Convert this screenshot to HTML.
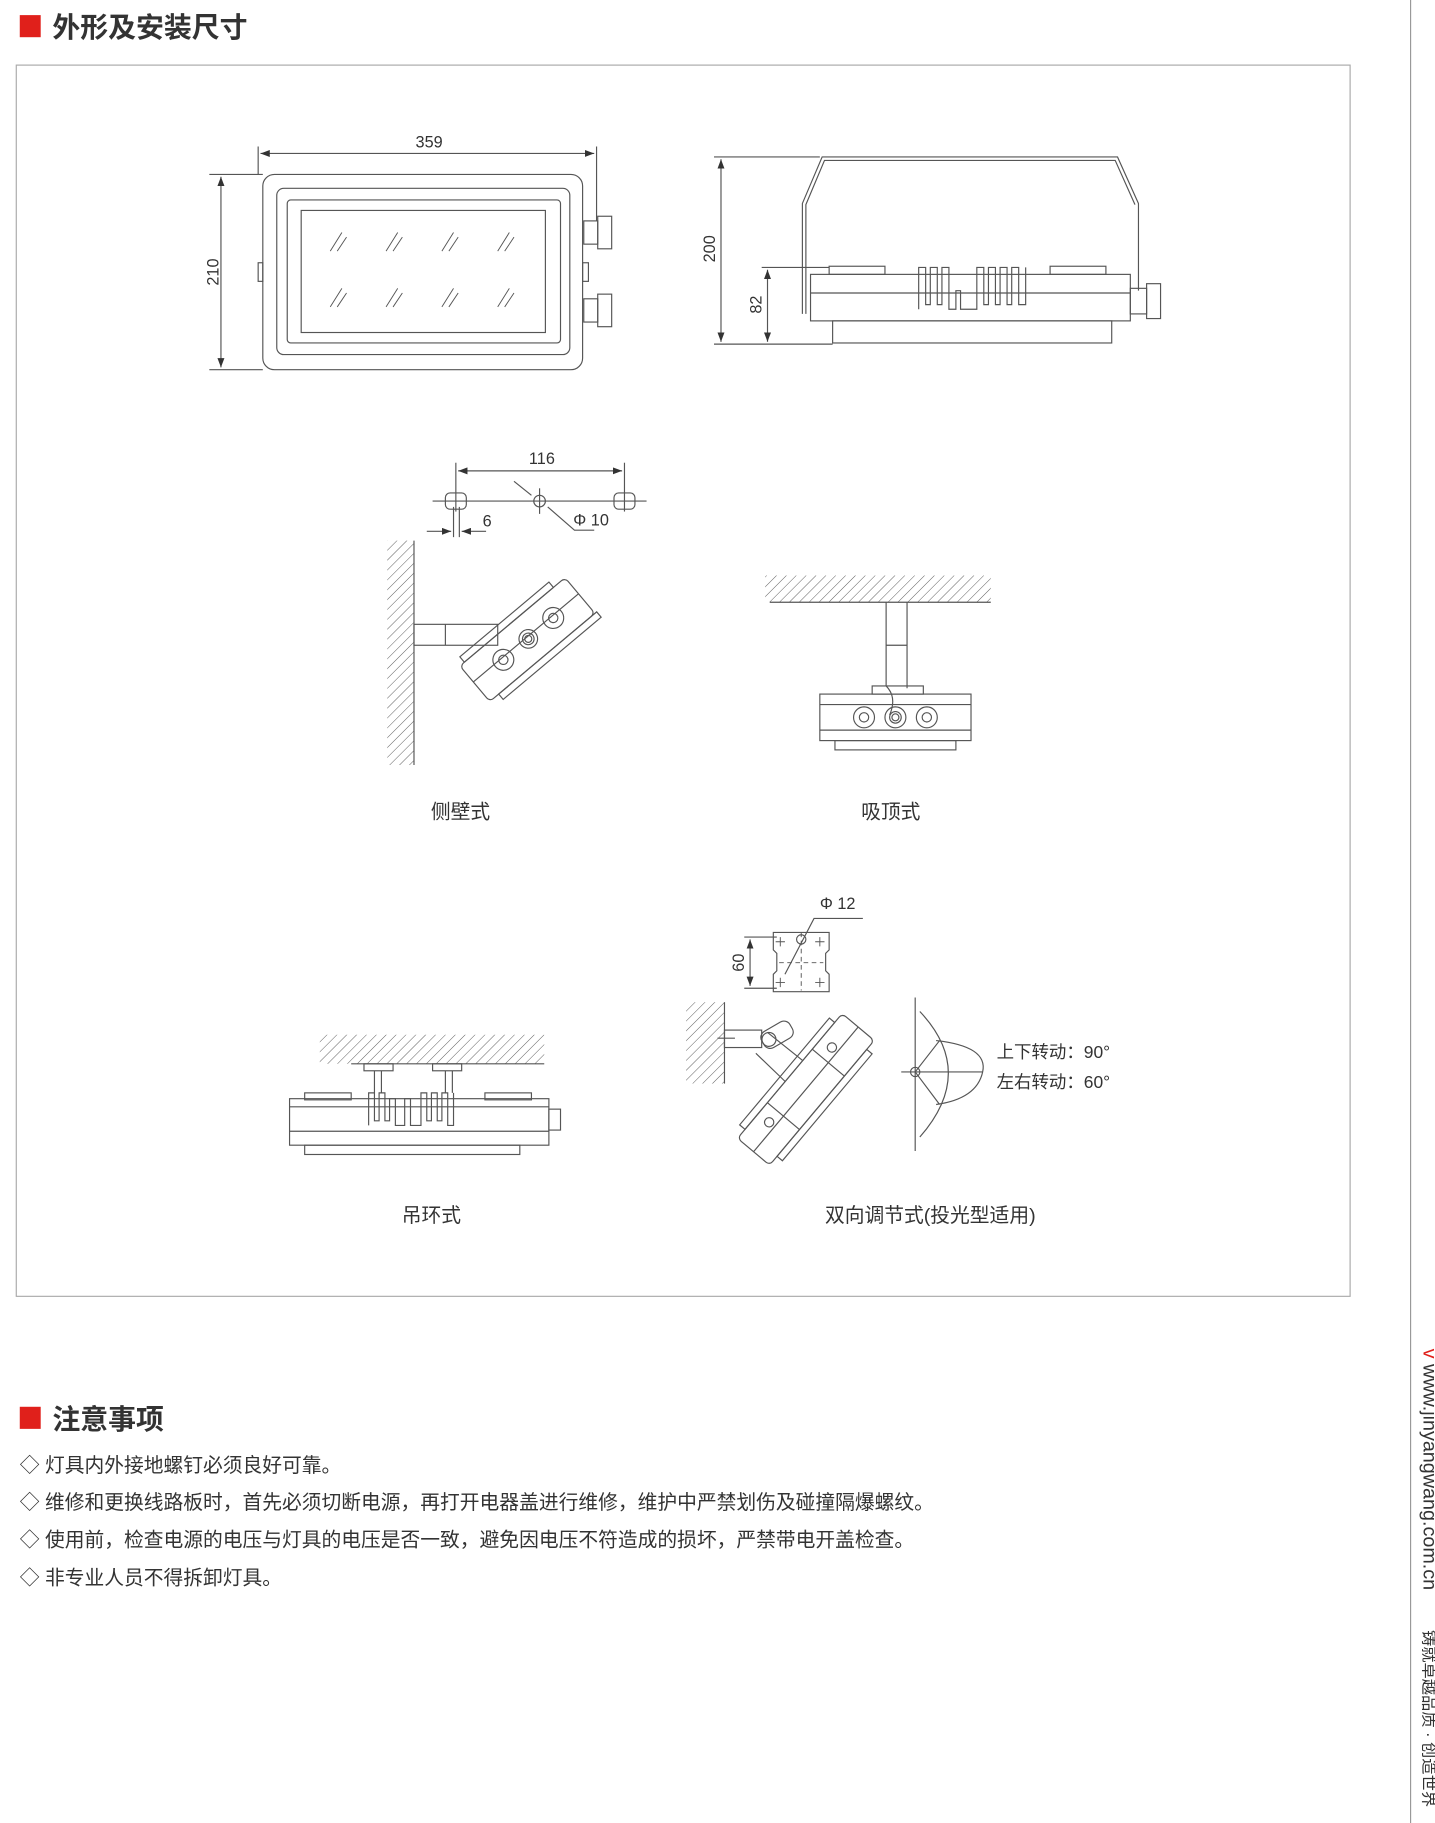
<!DOCTYPE html>
<html><head><meta charset="utf-8"><style>
html,body{margin:0;padding:0;background:#fff;}
svg{display:block}
text{font-family:"Liberation Sans","Noto Sans CJK SC",sans-serif;fill:#333}
</style></head><body>
<svg width="1435" height="1823" viewBox="0 0 1234 1568" preserveAspectRatio="none" xmlns="http://www.w3.org/2000/svg">
<defs>
<pattern id="h" width="6" height="6" patternUnits="userSpaceOnUse" patternTransform="rotate(45)">
<line x1="0" y1="0" x2="0" y2="6" stroke="#555" stroke-width="0.8"/></pattern>
<marker id="a" markerWidth="8" markerHeight="6" refX="8" refY="3" orient="auto-start-reverse" markerUnits="userSpaceOnUse"><path d="M0,0 L8,3 L0,6z" fill="#333"/></marker>
</defs>
<rect x="17" y="13" width="18" height="19" fill="#e0201b"/>
<text x="45" y="32" font-size="24" font-weight="bold" fill="#444">外形及安装尺寸</text>
<rect x="14" y="56" width="1147" height="1059" fill="none" stroke="#aaa" stroke-width="1"/>
<line x1="1213" y1="0" x2="1213" y2="1568" stroke="#999" stroke-width="1"/>

<g fill="none" stroke="#555" stroke-width="1">
<rect x="226" y="150" width="275" height="168" rx="10"/>
<rect x="238" y="162" width="252" height="143" rx="6"/>
<rect x="247" y="172" width="235" height="123" rx="3"/>
<rect x="259" y="181" width="210" height="105"/>
<rect x="222" y="226" width="4" height="16"/>
<rect x="501" y="226" width="5" height="16"/>
<rect x="502" y="190" width="12" height="20"/><rect x="514" y="186" width="12" height="28"/>
<rect x="502" y="257" width="12" height="20"/><rect x="514" y="253" width="12" height="28"/>
<g stroke-width="0.8">
<path d="M284,216 l10,-16 M290,216 l8,-12 M332,216 l10,-16 M338,216 l8,-12 M380,216 l10,-16 M386,216 l8,-12 M428,216 l10,-16 M434,216 l8,-12"/>
<path d="M284,264 l10,-16 M290,264 l8,-12 M332,264 l10,-16 M338,264 l8,-12 M380,264 l10,-16 M386,264 l8,-12 M428,264 l10,-16 M434,264 l8,-12"/>
</g>
<line x1="222" y1="126" x2="222" y2="150"/><line x1="513" y1="126" x2="513" y2="190"/>
<line x1="224" y1="132" x2="511" y2="132" marker-start="url(#a)" marker-end="url(#a)"/>
<line x1="180" y1="150" x2="226" y2="150"/><line x1="180" y1="318" x2="226" y2="318"/>
<line x1="190" y1="152" x2="190" y2="316" marker-start="url(#a)" marker-end="url(#a)"/>

<path d="M690,270 L690,175 L707,135 L961,135 L979,175 L979,250"/>
<path d="M693,270 L693,176 L709,138 L959,138 L976,176"/>
<rect x="697" y="236" width="275" height="40"/>
<line x1="697" y1="252" x2="972" y2="252"/>
<rect x="716" y="276" width="240" height="19"/>
<rect x="713" y="229" width="48" height="7"/><rect x="903" y="229" width="48" height="7"/>
<path d="M790,266 L790,230 L796,230 L796,262 L800,262 L800,230 L806,230 L806,262 L810,262 L810,230 L816,230 L816,266 L822,266 L822,250 L826,250 L826,266 L840,266 L840,230 L846,230 L846,262 L850,262 L850,230 L856,230 L856,262 L860,262 L860,230 L866,230 L866,262 L870,262 L870,230 L876,230 L876,262 L882,262 L882,230"/>
<rect x="972" y="248" width="14" height="22"/><rect x="986" y="244" width="12" height="30"/>
<line x1="614" y1="135" x2="705" y2="135"/><line x1="614" y1="296" x2="716" y2="296"/>
<line x1="620" y1="137" x2="620" y2="294" marker-start="url(#a)" marker-end="url(#a)"/>
<line x1="655" y1="230" x2="713" y2="230"/>
<line x1="660" y1="232" x2="660" y2="294" marker-start="url(#a)" marker-end="url(#a)"/>

<line x1="392" y1="398" x2="392" y2="440"/><line x1="537" y1="398" x2="537" y2="440"/>
<line x1="394" y1="405" x2="535" y2="405" marker-start="url(#a)" marker-end="url(#a)"/>
<line x1="372" y1="431" x2="556" y2="431"/>
<rect x="383" y="424" width="18" height="14" rx="4"/>
<rect x="528" y="424" width="18" height="14" rx="4"/>
<circle cx="464" cy="431" r="5"/><line x1="464" y1="420" x2="464" y2="442"/>
<line x1="442" y1="414" x2="457" y2="426"/>
<path d="M471,436 L494,456 L511,456"/>
<line x1="390" y1="436" x2="390" y2="462"/><line x1="395" y1="436" x2="395" y2="462"/>
<line x1="367" y1="457" x2="388" y2="457" marker-end="url(#a)"/><line x1="418" y1="457" x2="397" y2="457" marker-end="url(#a)"/>

<rect x="333" y="465" width="23" height="193" fill="url(#h)" stroke="none"/>
<line x1="356" y1="465" x2="356" y2="658"/>
<rect x="356" y="537" width="72" height="18"/><line x1="383" y1="537" x2="383" y2="555"/>
<g transform="translate(453,548) rotate(-40)">
<rect x="-60" y="-18" width="118" height="40" rx="4"/>
<rect x="-55" y="-24" width="100" height="6"/>
<rect x="-50" y="22" width="110" height="6"/>
<line x1="-60" y1="0" x2="58" y2="0"/>
<circle cx="-28" cy="2" r="9"/><circle cx="-28" cy="2" r="4"/>
<circle cx="0" cy="2" r="8"/><circle cx="0" cy="2" r="5"/><circle cx="0" cy="2" r="3"/>
<circle cx="28" cy="2" r="9"/><circle cx="28" cy="2" r="4"/>
</g>

<rect x="658" y="495" width="194" height="23" fill="url(#h)" stroke="none"/>
<line x1="662" y1="518" x2="852" y2="518"/>
<path d="M762,518 L762,590 C770,598 768,608 765,615 M780,518 L780,592"/>
<line x1="762" y1="555" x2="780" y2="555"/>
<rect x="705" y="597" width="130" height="40"/>
<line x1="705" y1="606" x2="835" y2="606"/><line x1="705" y1="628" x2="835" y2="628"/>
<rect x="718" y="637" width="104" height="8"/>
<rect x="750" y="590" width="44" height="7"/>
<circle cx="743" cy="617" r="9"/><circle cx="743" cy="617" r="4"/>
<circle cx="770" cy="617" r="9"/><circle cx="770" cy="617" r="5"/><circle cx="770" cy="617" r="3"/>
<circle cx="797" cy="617" r="9"/><circle cx="797" cy="617" r="4"/>

<rect x="275" y="890" width="193" height="25" fill="url(#h)" stroke="none"/>
<line x1="302" y1="915" x2="468" y2="915"/>
<rect x="313" y="915" width="25" height="6"/><rect x="372" y="915" width="25" height="6"/>
<path d="M322,921 L322,940 M328,921 L328,940 M383,921 L383,940 M389,921 L389,940"/>
<rect x="262" y="940" width="40" height="6"/><rect x="417" y="940" width="40" height="6"/>
<rect x="249" y="945" width="223" height="40"/>
<line x1="249" y1="952" x2="472" y2="952"/><line x1="249" y1="973" x2="472" y2="973"/>
<rect x="262" y="985" width="185" height="8"/>
<rect x="472" y="954" width="10" height="18"/>
<path d="M317,968 L317,940 L322,940 L322,964 L326,964 L326,940 L331,940 L331,964 L335,964 L335,945 L340,945 L340,968 L348,968 L348,945 L353,945 L353,968 L362,968 L362,940 L367,940 L367,964 L371,964 L371,940 L376,940 L376,964 L380,964 L380,940 L385,940 L385,968 L390,968 L390,940"/>

<path d="M665,802 L713,802 L713,817 L710,820 L710,835 L713,838 L713,853 L665,853 L665,838 L668,835 L668,820 L665,817 Z"/>
<g stroke-width="0.8">
<path d="M667,810 h8 M671,806 v8 M701,810 h8 M705,806 v8 M667,845 h8 M671,841 v8 M701,845 h8 M705,841 v8"/>
<path d="M670,828 h38" stroke-dasharray="4,3"/>
<path d="M689,802 v50" stroke-dasharray="4,3"/>
</g>
<circle cx="689" cy="808" r="4"/>
<path d="M675,838 L700,790 L742,790"/>
<line x1="640" y1="806" x2="668" y2="806"/><line x1="640" y1="850" x2="668" y2="850"/>
<line x1="645" y1="808" x2="645" y2="848" marker-start="url(#a)" marker-end="url(#a)"/>
<rect x="590" y="862" width="33" height="70" fill="url(#h)" stroke="none"/>
<line x1="623" y1="862" x2="623" y2="932"/>
<rect x="623" y="886" width="32" height="15"/>
<line x1="617" y1="893" x2="632" y2="893"/>
<g transform="translate(663,893) rotate(-30)"><rect x="-8" y="-8" width="28" height="16" rx="6"/><circle cx="-2" cy="0" r="6"/></g>
<path d="M650,906 L675,930 M660,888 L690,912"/>
<g transform="translate(693,937) rotate(-50)">
<rect x="-70" y="-18" width="140" height="36" rx="4"/>
<rect x="-60" y="-24" width="120" height="6"/>
<rect x="-60" y="18" width="120" height="6"/>
<line x1="-70" y1="0" x2="70" y2="0"/>
<line x1="-30" y1="-18" x2="-30" y2="18"/><line x1="30" y1="-18" x2="30" y2="18"/>
<circle cx="-42" cy="-6" r="4"/><circle cx="42" cy="-6" r="4"/>
</g>
<line x1="787" y1="858" x2="787" y2="990"/>
<line x1="775" y1="922" x2="845" y2="922"/>
<circle cx="787" cy="922" r="4"/>
<path d="M791,870 Q840,922 791,978"/>
<path d="M805,895 Q850,900 845,922 Q840,945 805,950"/>
<path d="M787,922 L808,895 M787,922 L808,950"/>
</g>
<g font-size="14" fill="#333">
<text x="369" y="127" text-anchor="middle">359</text>
<text transform="translate(188,234) rotate(-90)" text-anchor="middle">210</text>
<text transform="translate(615,214) rotate(-90)" text-anchor="middle">200</text>
<text transform="translate(655,262) rotate(-90)" text-anchor="middle">82</text>
<text x="466" y="399" text-anchor="middle">116</text>
<text x="415" y="453">6</text>
<text x="493" y="452">Φ 10</text>
<text x="705" y="782">Φ 12</text>
<text transform="translate(640,828) rotate(-90)" text-anchor="middle">60</text>
<text x="857" y="910" font-size="15">上下转动：90°</text>
<text x="857" y="936" font-size="15">左右转动：60°</text>
</g>
<g font-size="17" fill="#333" text-anchor="middle">
<text x="396" y="704">侧壁式</text>
<text x="766" y="704">吸顶式</text>
<text x="371" y="1051">吊环式</text>
<text x="800" y="1051">双向调节式(投光型适用)</text>
</g>

<rect x="17" y="1210" width="18" height="19" fill="#e0201b"/>
<text x="45" y="1229" font-size="24" font-weight="bold" fill="#444">注意事项</text>
<g font-size="17" fill="#333">
<text x="17" y="1266">◇ 灯具内外接地螺钉必须良好可靠。</text>
<text x="17" y="1298">◇ 维修和更换线路板时，首先必须切断电源，再打开电器盖进行维修，维护中严禁划伤及碰撞隔爆螺纹。</text>
<text x="17" y="1330">◇ 使用前，检查电源的电压与灯具的电压是否一致，避免因电压不符造成的损坏，严禁带电开盖检查。</text>
<text x="17" y="1363">◇ 非专业人员不得拆卸灯具。</text>
</g>
<text transform="translate(1224,1160) rotate(90)" font-size="17" fill="#555"><tspan fill="#e0201b">v</tspan> www.jinyangwang.com.cn</text>
<text transform="translate(1224,1402) rotate(90)" font-size="14" fill="#555">铸就卓越品质 · 创造世界</text>
</svg>
</body></html>
